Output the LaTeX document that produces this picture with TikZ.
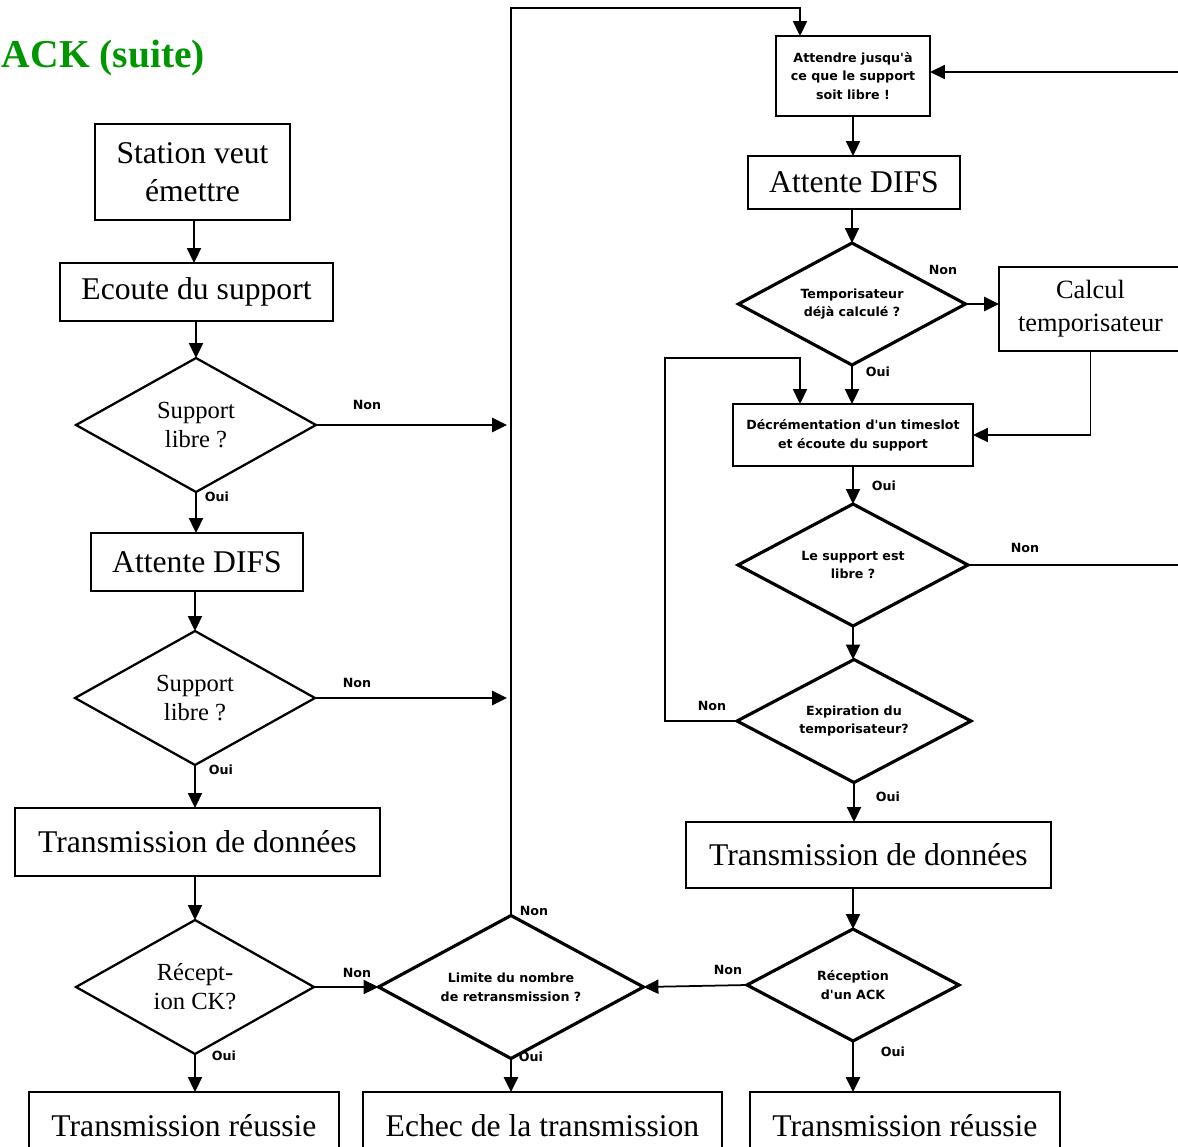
\documentclass[tikz,border=0pt]{standalone}
\usepackage{fontspec}
\setmainfont{Liberation Serif}
\newfontfamily\labfont{DejaVu Sans}
\usetikzlibrary{shapes.geometric,arrows.meta}
\definecolor{titlegreen}{RGB}{0,150,0}
\begin{document}
\begin{tikzpicture}[x=0.02cm,y=-0.02cm,
  every node/.style={inner sep=0pt, outer sep=0pt},
  big/.style={font=\fontsize{18}{21.5}\selectfont, align=center},
  mid/.style={font=\fontsize{14}{16.5}\selectfont, align=center},
  tiny/.style={font=\labfont\bfseries\fontsize{7.2}{10.6}\selectfont, align=center},
  box/.style={draw, line width=1.1pt, rectangle, big},
  sbox/.style={draw, line width=1.3pt, rectangle, tiny},
  choice/.style={draw, line width=1.3pt, diamond, mid},
  schoice/.style={draw, line width=1.8pt, diamond, tiny},
  arr/.style={line width=1pt, -{Triangle[width=8pt,length=8.5pt]}},
  lab/.style={tiny}
]
\useasboundingbox (0,0) rectangle (1178,1147);
\begin{scope}
\clip (0,0) rectangle (1178,1147);

% title
\node[anchor=base west, font=\bfseries\fontsize{22.5}{27}\selectfont, text=titlegreen] (title) at (2,67) {ACK (suite)};

% ---------- left column ----------
\node[box, minimum width=3.9cm, minimum height=1.92cm] (st) at (192.5,172) {Station veut\\ émettre};
\node[box, minimum width=5.46cm, minimum height=1.16cm] (ec) at (196.5,292) {Ecoute du support};
\node[choice, aspect=1.79, minimum width=4.8cm, minimum height=2.68cm] (d1) at (196,425) {Support\\libre ?};
\node[box, minimum width=4.24cm, minimum height=1.16cm] (ad) at (197,562) {Attente DIFS};
\node[choice, aspect=1.79, minimum width=4.8cm, minimum height=2.68cm] (d2) at (195,698) {Support\\libre ?};
\node[box, minimum width=7.3cm, minimum height=1.36cm] (tr) at (197.5,842) {Transmission de données};
\node[choice, aspect=1.78, minimum width=4.76cm, minimum height=2.68cm] (d3) at (195,987) {Récept-\\ion CK?};
\node[box, minimum width=6.2cm, minimum height=1.36cm] (ok1) at (184,1126) {Transmission réussie};

% ---------- middle ----------
\node[schoice, aspect=1.85, minimum width=5.3cm, minimum height=2.86cm] (lim) at (511,987) {Limite du nombre\\de retransmission ?};
\node[box, minimum width=7.18cm, minimum height=1.36cm] (ech) at (542.5,1126) {Echec de la transmission};

% ---------- right column ----------
\node[sbox, minimum width=3.08cm, minimum height=1.6cm] (att) at (853,76) {Attendre jusqu'à\\ce que le support\\soit libre !};
\node[box, minimum width=4.24cm, minimum height=1.06cm] (ad2) at (854,182.5) {Attente DIFS};
\node[schoice, aspect=1.86, minimum width=4.54cm, minimum height=2.44cm] (tmp) at (852,304) {Temporisateur\\déjà calculé ?};
\node[box, font=\fontsize{15}{18.7}\selectfont, minimum width=3.66cm, minimum height=1.68cm] (cal) at (1090.5,309) {Calcul\\temporisateur};
\node[sbox, minimum width=4.8cm, minimum height=1.24cm] (dec) at (853,435) {Décrémentation d'un timeslot\\et écoute du support};
\node[schoice, aspect=1.89, minimum width=4.6cm, minimum height=2.44cm] (sup) at (853,565) {Le support est\\libre ?};
\node[schoice, aspect=1.9, minimum width=4.68cm, minimum height=2.46cm] (exp) at (854,721) {Expiration du\\temporisateur?};
\node[box, minimum width=7.3cm, minimum height=1.32cm] (tr2) at (868.5,855) {Transmission de données};
\node[schoice, aspect=1.89, minimum width=4.24cm, minimum height=2.24cm] (ack) at (853,985) {Réception\\d'un ACK};
\node[box, minimum width=6.2cm, minimum height=1.36cm] (ok2) at (905,1126) {Transmission réussie};

% free ends and bends
\coordinate (e1) at (507,425);
\coordinate (e2) at (507,698);
\coordinate (top) at (800,8);
\coordinate (edgeA) at (1195,72);
\coordinate (edgeB) at (1195,565);
\coordinate (loop) at (800,358);

% ---------- left connectors ----------
\draw[arr] (st.south -| 194,0) -- (ec.north -| 194,0);
\draw[arr] (ec.south -| d1.north) -- (d1.north);
\draw[arr] (d1.south) -- (d1.south |- ad.north);
\draw[arr] (ad.south -| d2.north) -- (d2.north);
\draw[arr] (d2.south) -- (d2.south |- tr.north);
\draw[arr] (tr.south -| d3.north) -- (d3.north);
\draw[arr] (d3.south) -- (d3.south |- ok1.north);
\draw[arr, line width=1.4pt] (d1.east) -- (e1);
\draw[arr, line width=1.4pt] (d2.east) -- (e2);
\draw[arr] (d3.east) -- (lim.west);

% ---------- middle connectors ----------
\draw[arr] (lim.north) |- (top) -- (top |- att.north);
\draw[arr, line width=1.4pt] (lim.south) -- (lim.south |- ech.north);
\draw[arr] (ack.west) -- (lim.east);

% ---------- right connectors ----------
\draw[arr] (sup.east) -- (edgeB) -- (edgeA) -- (edgeA -| att.east);
\draw[arr] (att.south) -- (att.south |- ad2.north);
\draw[arr] (ad2.south -| tmp.north) -- (tmp.north);
\draw[arr, line width=1.4pt] (tmp.east) -- (tmp.east -| cal.west);
\draw[arr] (tmp.south) -- (tmp.south |- dec.north);
\draw[arr] (cal.south) |- (dec.east);
\draw[arr] (dec.south -| sup.north) -- (sup.north);
\draw[arr] (sup.south) -- (sup.south |- exp.north);
\draw[arr] (exp.west) -- ++(-72,0) |- (loop) -- (loop |- dec.north);
\draw[arr] (exp.south) -- (exp.south |- tr2.north);
\draw[arr] (tr2.south -| ack.north) -- (ack.north);
\draw[arr, line width=1.4pt] (ack.south) -- (ack.south |- ok2.north);

% ---------- branch labels ----------
\node[lab] (n1) at (367,405) {Non};
\node[lab] (o1) at (217,497) {Oui};
\node[lab] (n2) at (357,683) {Non};
\node[lab] (o2) at (221,770) {Oui};
\node[lab] (n3) at (357,973) {Non};
\node[lab] (o3) at (224,1056) {Oui};
\node[lab] (n4) at (534,911) {Non};
\node[lab] (o4) at (531,1057) {Oui};
\node[lab] (n5) at (728,970) {Non};
\node[lab] (o5) at (893,1052) {Oui};
\node[lab] (n6) at (943,270) {Non};
\node[lab] (o6) at (878,372) {Oui};
\node[lab] (o7) at (884,486) {Oui};
\node[lab] (n7) at (1025,548) {Non};
\node[lab] (n8) at (712,706) {Non};
\node[lab] (o8) at (888,797) {Oui};
\end{scope}
\end{tikzpicture}
\end{document}
